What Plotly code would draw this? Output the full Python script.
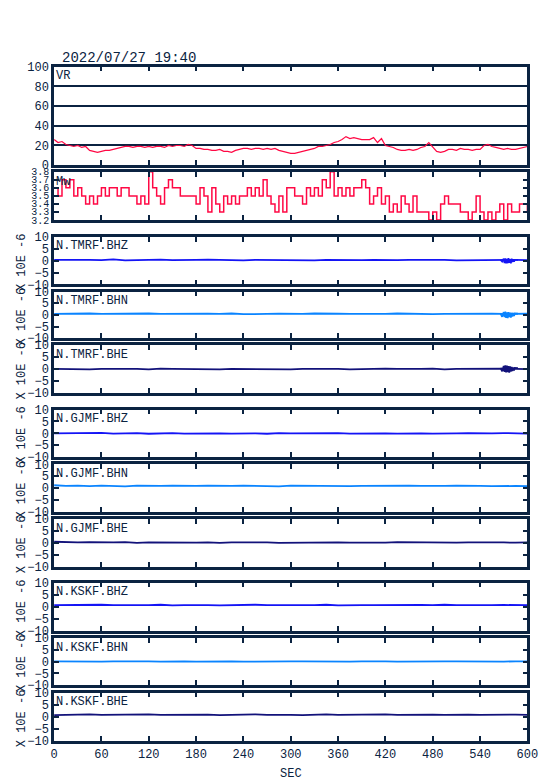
import plotly.graph_objects as go

# ---------------- data ----------------
title_text = "2022/07/27 19:40"
x_ticks = [0, 60, 120, 180, 240, 300, 360, 420, 480, 540, 600]

# VR (%) every 5 s
vr = [26, 23, 24, 21, 20, 19, 20, 18, 19, 15, 14, 13, 14, 15, 15, 16, 17, 18, 19, 19,
      18, 19, 19, 18, 19, 18, 19, 19, 18, 20, 19, 20, 20, 19, 21, 20, 17, 17, 16, 16,
      15, 15, 16, 14, 14, 13, 15, 16, 17, 17, 16, 17, 17, 16, 17, 16, 17, 15, 14, 13,
      12, 12, 13, 14, 15, 16, 17, 19, 19, 20, 21, 23, 24, 26, 29, 27, 28, 27, 26, 26,
      26, 28, 23, 27, 20, 19, 18, 16, 15, 15, 16, 15, 16, 18, 19, 23, 18, 14, 13, 14,
      16, 16, 15, 17, 16, 16, 15, 16, 16, 20, 21, 19, 18, 17, 16, 17, 16, 16, 17, 18, 19]

# Mw every 5 s
mw = [3.6, 3.5, 3.7, 3.6, 3.7, 3.5, 3.6, 3.5, 3.4, 3.5, 3.4, 3.5, 3.6, 3.5, 3.6, 3.6,
      3.5, 3.6, 3.6, 3.5, 3.5, 3.4, 3.5, 3.4, 3.8, 3.6, 3.5, 3.4, 3.6, 3.7, 3.6, 3.6,
      3.5, 3.5, 3.5, 3.5, 3.4, 3.6, 3.5, 3.3, 3.6, 3.4, 3.3, 3.5, 3.4, 3.5, 3.4, 3.5,
      3.5, 3.6, 3.5, 3.6, 3.5, 3.7, 3.5, 3.4, 3.3, 3.5, 3.3, 3.6, 3.6, 3.5, 3.5, 3.4,
      3.6, 3.5, 3.6, 3.5, 3.7, 3.6, 3.8, 3.5, 3.6, 3.5, 3.6, 3.5, 3.6, 3.6, 3.7, 3.6,
      3.4, 3.5, 3.6, 3.4, 3.5, 3.3, 3.4, 3.3, 3.5, 3.4, 3.3, 3.5, 3.3, 3.3, 3.3, 3.2,
      3.3, 3.2, 3.4, 3.5, 3.4, 3.4, 3.4, 3.3, 3.3, 3.2, 3.3, 3.5, 3.3, 3.2, 3.3, 3.2,
      3.3, 3.4, 3.2, 3.4, 3.3, 3.3, 3.4, 3.4, 3.3]
mw_ticks = [3.2, 3.3, 3.4, 3.5, 3.6, 3.7, 3.8]

# seismograms (x 10E-6), every 15 s
stations = ["N.TMRF.BHZ", "N.TMRF.BHN", "N.TMRF.BHE",
            "N.GJMF.BHZ", "N.GJMF.BHN", "N.GJMF.BHE",
            "N.KSKF.BHZ", "N.KSKF.BHN", "N.KSKF.BHE"]
tmrf_bhz = [0.3, 0.4, 0.2, 0.3, 0.2, 0.5, 0.1, 0.3, 0.2, 0.4, 0.2, 0.1, 0.3, 0.4, 0.2, 0.3, 0.1,
            0.3, 0.2, 0.4, 0.3, 0.2, 0.1, 0.3, 0.2, 0.4, 0.2, 0.3, 0.1, 0.2, 0.3, 0.4, 0.2, 0.3,
            0.1, 0.2, 0.3, 0.2, 0.4, 0.3, 0.2]
tmrf_bhn = [0.4, 0.5, 0.3, 0.6, 0.4, 0.5, 0.3, 0.4, 0.6, 0.4, 0.5, 0.3, 0.4, 0.5, 0.4, 0.6, 0.3,
            0.5, 0.4, 0.5, 0.3, 0.4, 0.6, 0.4, 0.5, 0.4, 0.3, 0.5, 0.4, 0.6, 0.4, 0.5, 0.3, 0.4,
            0.5, 0.4, 0.6, 0.5, 0.4, 0.6, 0.5]
tmrf_bhe = [0.1, 0.0, 0.2, -0.1, 0.1, 0.2, 0.0, 0.1, -0.1, 0.2, 0.1, 0.0, 0.2, 0.1, -0.1, 0.1,
            0.0, 0.2, 0.1, 0.0, -0.1, 0.1, 0.2, 0.0, 0.1, -0.1, 0.1, 0.0, 0.2, 0.1, 0.0, 0.1,
            0.2, -0.1, 0.1, 0.2, 0.0, 0.1, 0.2, 0.1, 0.0]
gjmf_bhz = [0.0, 0.1, -0.1, 0.0, 0.2, -0.1, 0.0, 0.1, -0.2, 0.0, 0.1, -0.1, 0.0, 0.1, 0.0, -0.1,
            0.1, 0.0, -0.2, 0.1, 0.0, 0.1, -0.1, 0.0, 0.1, -0.1, 0.0, 0.1, 0.0, -0.1, 0.1, 0.0,
            -0.1, 0.1, 0.0, 0.1, -0.1, 0.0, 0.1, 0.0, -0.1]
gjmf_bhn = [1.2, 0.9, 1.0, 0.8, 1.0, 0.9, 0.7, 1.0, 0.8, 0.9, 1.0, 0.8, 0.9, 1.0, 0.8, 0.9, 1.0,
            0.8, 0.9, 0.7, 1.0, 0.9, 0.8, 1.0, 0.9, 0.8, 0.9, 1.0, 0.8, 0.9, 1.0, 0.9, 0.8, 0.9,
            1.0, 0.8, 0.9, 0.8, 1.0, 0.9, 0.8]
gjmf_bhe = [0.4, 0.2, 0.1, 0.2, 0.0, 0.1, 0.2, -0.1, 0.1, 0.0, 0.2, 0.1, 0.0, 0.1, -0.1, 0.1,
            0.2, 0.0, 0.1, -0.1, 0.0, 0.1, 0.2, 0.0, 0.1, 0.0, -0.1, 0.1, 0.0, 0.2, 0.1, 0.0,
            -0.1, 0.1, 0.0, 0.1, 0.2, 0.0, 0.1, 0.0, 0.1]
kskf_bhz = [0.6, 0.7, 0.5, 0.6, 0.8, 0.6, 0.5, 0.7, 0.6, 0.8, 0.5, 0.6, 0.7, 0.6, 0.5, 0.7, 0.6,
            0.8, 0.6, 0.5, 0.7, 0.6, 0.6, 0.8, 0.5, 0.7, 0.6, 0.6, 0.7, 0.5, 0.6, 0.7, 0.6, 0.8,
            0.6, 0.5, 0.7, 0.6, 0.7, 0.6, 0.6]
kskf_bhn = [0.1, 0.0, 0.2, 0.1, 0.0, 0.1, 0.2, 0.0, 0.1, 0.0, 0.2, 0.1, 0.0, 0.1, 0.2, 0.1, 0.0,
            0.1, 0.2, 0.0, 0.1, 0.1, 0.0, 0.2, 0.1, 0.0, 0.1, 0.2, 0.1, 0.0, 0.1, 0.2, 0.0, 0.1,
            0.1, 0.0, 0.2, 0.1, 0.0, 0.1, 0.1]
kskf_bhe = [0.7, 0.9, 0.8, 1.0, 0.8, 0.9, 0.7, 0.9, 1.0, 0.8, 0.9, 0.8, 1.0, 0.9, 0.7, 0.9, 0.8,
            1.0, 0.8, 0.9, 0.8, 0.7, 0.9, 1.0, 0.8, 0.9, 0.8, 0.9, 1.0, 0.8, 0.9, 0.7, 0.9, 0.8,
            1.0, 0.9, 0.8, 0.9, 0.8, 0.9, 0.8]
seis = [tmrf_bhz, tmrf_bhn, tmrf_bhe, gjmf_bhz, gjmf_bhn, gjmf_bhe, kskf_bhz, kskf_bhn, kskf_bhe]

# small wave-train near the end of the TMRF records
burst_t = [566, 568, 570, 571, 572, 573, 574, 575, 576, 577, 578, 579, 580, 581, 582, 583, 584, 586, 588]
burst_bhz = [0.3, -0.4, 0.8, -1.0, 0.9, -1.2, 0.7, -1.1, 1.0, -0.9, 0.6, -1.2, 0.8, -0.6, 0.5, -0.4, 0.3, 0.2, 0.3]
burst_bhn = [0.6, -0.8, 1.2, -1.0, 1.4, -1.3, 1.1, -1.4, 1.2, -0.9, 1.0, -1.2, 0.9, -0.7, 0.8, -0.5, 0.6, 0.4, 0.5]
burst_bhe = [0.5, -0.9, 1.3, -1.2, 1.6, -1.4, 1.5, -1.3, 1.2, -1.5, 1.1, -1.0, 0.9, -0.8, 0.7, -0.6, 0.5, 0.3, 0.4]
bursts = {0: burst_bhz, 1: burst_bhn, 2: burst_bhe}
seis_ticks = [-10, -5, 0, 5, 10]
seis_ticktext = ["\u221210", "\u22125", "0", "5", "10"]

# ---------------- style ----------------
W, H = 554, 781
NAVY = "#0b2341"
RED = "#ff0844"
COMP_COL = {"BHZ": "#1414f5", "BHN": "#0a84ff", "BHE": "#12127a"}
FONT = "Liberation Mono"
LW = 2.6

# panel frame centres in pixels (top, bottom)
panels = [(65.3, 166.5), (170.5, 221.3), (235.5, 285.7), (290.3, 339.5), (343.7, 394.5),
          (408.3, 458.3), (463.0, 513.2), (517.6, 567.8), (581.3, 632.0), (636.7, 686.5),
          (691.3, 742.2)]
XL, XR = 52.8, 528.7
INS = LW / 2

def py(p):
    return 1 - p / H

fig = go.Figure()

def t_for(vals):
    n = len(vals)
    return [i * 600 / (n - 1) for i in range(n)]

fig.add_trace(go.Scatter(x=t_for(vr), y=vr, mode="lines", line=dict(color=RED, width=1.2),
                         xaxis="x", yaxis="y", hoverinfo="skip"))
fig.add_trace(go.Scatter(x=t_for(mw), y=mw, mode="lines", line=dict(color=RED, width=1.5, shape="hv"),
                         xaxis="x2", yaxis="y2", hoverinfo="skip"))
for k, vals in enumerate(seis):
    col = COMP_COL[stations[k].split(".")[-1]]
    n = k + 3
    fig.add_trace(go.Scatter(x=t_for(vals), y=vals, mode="lines", line=dict(color=col, width=1.8),
                             xaxis=f"x{n}", yaxis=f"y{n}", hoverinfo="skip"))
    if k in bursts:
        fig.add_trace(go.Scatter(x=burst_t, y=bursts[k], mode="lines", line=dict(color=col, width=1.8),
                                 xaxis=f"x{n}", yaxis=f"y{n}", hoverinfo="skip"))

layout = dict(width=W, height=H, margin=dict(l=0, r=0, t=0, b=0, autoexpand=False),
              showlegend=False, paper_bgcolor="white", plot_bgcolor="white", hovermode=False,
              font=dict(family=FONT, size=12, color=NAVY))
annotations = []
for i, (top, bot) in enumerate(panels):
    n = "" if i == 0 else str(i + 1)
    dom_y = [py(bot - INS), py(top + INS)]
    xa = dict(domain=[(XL + INS) / W, (XR - INS) / W], range=[0, 600], tickvals=x_ticks,
              ticks="inside", ticklen=5, tickwidth=1.5, tickcolor=NAVY, showline=True,
              linewidth=LW, linecolor=NAVY, mirror="ticks", showgrid=False, zeroline=False,
              anchor=f"y{n}", showticklabels=(i == len(panels) - 1), automargin=False,
              tickfont=dict(family=FONT, size=12, color=NAVY))
    ya = dict(domain=dom_y, anchor=f"x{n}", ticks="inside", ticklen=5, tickwidth=1.5,
              tickcolor=NAVY, showline=True, linewidth=LW, linecolor=NAVY, mirror="ticks",
              zeroline=False, automargin=False, tickfont=dict(family=FONT, size=12, color=NAVY))
    if i == 0:
        ya.update(range=[0, 100], tickvals=[0, 20, 40, 60, 80, 100], showgrid=True,
                  gridcolor=NAVY, gridwidth=1.5)
        label = "VR"
    elif i == 1:
        ya.update(range=[3.2, 3.8], tickvals=mw_ticks, ticktext=[f"{v:.1f}" for v in mw_ticks],
                  showgrid=False, tickfont=dict(family=FONT, size=10, color=NAVY))
        label = "Mw"
    else:
        ya.update(range=[-10, 10], tickvals=seis_ticks, ticktext=seis_ticktext, showgrid=False)
        label = stations[i - 2]
        annotations.append(dict(text="X 10E -6", textangle=-90, xref="paper", yref="paper",
                                x=22 / W, y=py((top + bot) / 2 + 1.5), xanchor="center",
                                yanchor="middle", showarrow=False,
                                font=dict(family=FONT, size=12, color=NAVY)))
    layout[f"xaxis{n}"] = xa
    layout[f"yaxis{n}"] = ya
    annotations.append(dict(text=label, xref="paper", yref="paper", x=54 / W, y=py(top + 2),
                            xanchor="left", yanchor="top", showarrow=False,
                            font=dict(family=FONT, size=12, color=NAVY)))

annotations.append(dict(text=title_text, xref="paper", yref="paper", x=60 / W, y=py(58),
                        xanchor="left", yanchor="middle", showarrow=False,
                        font=dict(family=FONT, size=14, color=NAVY)))
annotations.append(dict(text="SEC", xref="paper", yref="paper", x=290.5 / W, y=py(774),
                        xanchor="center", yanchor="middle", showarrow=False,
                        font=dict(family=FONT, size=12, color=NAVY)))
layout["annotations"] = annotations
fig.update_layout(**layout)
fig.write_html("out.html", config={"displayModeBar": False},
               post_script="document.body.style.margin='0';document.body.style.overflow='hidden';")
